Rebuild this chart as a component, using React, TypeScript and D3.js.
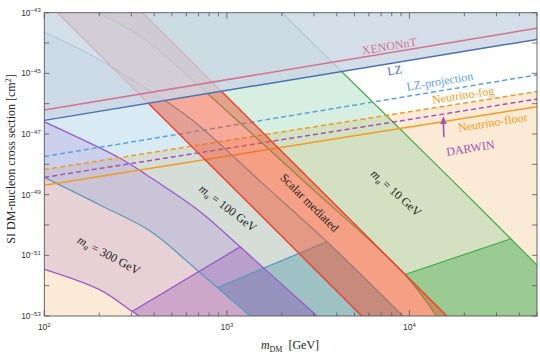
import React, { useEffect, useRef } from "react";
import * as d3 from "d3";

type Pt = [number, number]; // [DM mass in GeV, log10 of cross section in cm^2]

// axis ranges and labelled ticks
const massDomain: [number, number] = [100, 50000];
const expDomain: [number, number] = [-53, -43];
const yLabelExps = [-53, -51, -49, -47, -45, -43];
const xLabelExps = [2, 3, 4];

// experimental limits / projections
const xenonNT: Pt[] = [[100, -46.21], [50000, -43.51]];
const lz: Pt[] = [[100, -46.55], [50000, -43.88]];
const lzProjection: Pt[] = [[100, -47.74], [50000, -45.05]];
const neutrinoFog: Pt[] = [[100, -48.17], [50000, -45.6]];
const darwin: Pt[] = [[100, -48.43], [50000, -45.85]];
const neutrinoFloor: Pt[] = [[100, -48.69], [50000, -46.1]];

// scalar mediated band edges
const scalarLeft: Pt[] = [[118, -43], [5483, -53]];
const scalarRight: Pt[] = [[345, -43], [16040, -53]];

// m_a = 300 GeV
const upper300: Pt[] = [[100, -46.6], [260, -47.8], [364, -48.35], [714, -49.56], [1183, -50.72], [3114, -53.0]];
const lower300: Pt[] = [[100, -51.46], [202, -52.14], [301, -52.84], [331, -53.0]];
const cut300: Pt[] = [[301, -52.86], [1183, -50.72]];

// m_a = 100 GeV
const upper100: Pt[] = [[100, -43.65], [194, -44.5], [349, -45.44], [629, -46.48], [1622, -48.71], [3533, -50.55], [9230, -53.0]];
const lower100: Pt[] = [[100, -48.43], [202, -49.34], [380, -50.2], [685, -51.48], [1342, -53.0]];
const cut100: Pt[] = [[899, -52.05], [3533, -50.55]];

// m_a = 10 GeV
const upper10: Pt[] = [[2000, -43], [17100, -48.52], [50000, -51.32]];
const lower10: Pt[] = [[194, -43], [260, -43.37], [380, -44.01], [714, -45.45], [2523, -48.45], [9495, -51.65], [14050, -53.0]];
const cut10: Pt[] = [[9495, -51.63], [35750, -50.46]];

const W = 540;
const H = 354;
const plot = { left: 44.3, right: 537, top: 12.7, bottom: 316 };
const serif = "'Liberation Serif', 'Times New Roman', serif";
const sans = "'Liberation Sans', Arial, sans-serif";

export default function App() {
  const ref = useRef<SVGSVGElement | null>(null);

  useEffect(() => {
    const svg = d3.select(ref.current);
    svg.selectAll("*").remove();

    const x = d3.scaleLog().domain(massDomain).range([plot.left, plot.right]);
    const y = d3
      .scaleLog()
      .domain([10 ** expDomain[0], 10 ** expDomain[1]])
      .range([plot.bottom, plot.top]);
    const X = (p: Pt) => x(p[0]);
    const Y = (p: Pt) => y(10 ** p[1]);
    const smooth = d3.line<Pt>().x(X).y(Y).curve(d3.curveCatmullRom.alpha(0.5));
    const straight = d3.line<Pt>().x(X).y(Y);
    const poly = (pts: Pt[]) => straight(pts) + "Z";
    const bandPath = (upper: Pt[], lower: Pt[], extra: Pt[] = []) => {
      const lo = smooth([...lower].reverse()) as string;
      return smooth(upper) + extra.map((p) => `L${X(p)},${Y(p)}`).join("") + "L" + lo.slice(1) + "Z";
    };
    const [mLo, mHi] = massDomain;
    const [eLo, eHi] = expDomain;

    const defs = svg.append("defs");
    defs
      .append("clipPath")
      .attr("id", "plot-area")
      .append("rect")
      .attr("x", plot.left)
      .attr("y", plot.top)
      .attr("width", plot.right - plot.left)
      .attr("height", plot.bottom - plot.top);

    const g = svg.append("g").attr("clip-path", "url(#plot-area)");

    // neutrino fog region
    g.append("path").attr("d", poly([...neutrinoFog, [mHi, eLo], [mLo, eLo]])).attr("fill", "#fbebd6");

    const bands: any[] = [
      { id: "b100", upper: upper100, lower: lower100, extra: [], cut: cut100, light: "#7fbcd9", lightOp: 0.3, dark: "#3d8fa0", darkOp: 0.36, stroke: "#5b9cbc" },
      { id: "b300", upper: upper300, lower: lower300, extra: [], cut: cut300, light: "#9b6bd0", lightOp: 0.2, dark: "#9b59b6", darkOp: 0.35, stroke: "#9b59c9" },
      { id: "b10", upper: upper10, lower: lower10, extra: [[mHi, eLo]], cut: cut10, light: "#5cc083", lightOp: 0.25, dark: "#4caf50", darkOp: 0.42, stroke: "#4cae50" },
    ];

    bands.forEach((b) => {
      b.d = bandPath(b.upper, b.lower, b.extra);
      const p1 = [X(b.cut[0]), Y(b.cut[0])];
      const p2 = [X(b.cut[1]), Y(b.cut[1])];
      const k = (p2[1] - p1[1]) / (p2[0] - p1[0]);
      const xa = plot.left - 30;
      const xb = plot.right + 30;
      const ya = p1[1] + k * (xa - p1[0]);
      const yb = p1[1] + k * (xb - p1[0]);
      b.cutLine = `M${xa},${ya}L${xb},${yb}`;
      defs
        .append("clipPath")
        .attr("id", `below-${b.id}`)
        .append("path")
        .attr("d", `M${xa},${ya}L${xb},${yb}L${xb},${plot.bottom + 40}L${xa},${plot.bottom + 40}Z`);
      defs.append("clipPath").attr("id", `inside-${b.id}`).append("path").attr("d", b.d);
    });

    // light bands
    bands.forEach((b) => {
      g.append("path").attr("d", b.d).attr("fill", b.light).attr("fill-opacity", b.lightOp);
    });
    // darker parts below the cut lines
    bands.forEach((b) => {
      g.append("path")
        .attr("d", b.d)
        .attr("clip-path", `url(#below-${b.id})`)
        .attr("fill", b.dark)
        .attr("fill-opacity", b.darkOp);
    });
    // band edges
    bands.forEach((b) => {
      [b.upper, b.lower].forEach((c) => {
        g.append("path").attr("d", smooth(c)).attr("fill", "none").attr("stroke", b.stroke).attr("stroke-width", 1.3);
      });
      g.append("path")
        .attr("d", b.cutLine)
        .attr("clip-path", `url(#inside-${b.id})`)
        .attr("fill", "none")
        .attr("stroke", b.stroke)
        .attr("stroke-width", 1.3);
    });

    // projections
    const projections = [
      { pts: lzProjection, color: "#5ba3d9", dash: "5,3" },
      { pts: neutrinoFog, color: "#f29b22", dash: "5,3" },
      { pts: darwin, color: "#a454b4", dash: "5,3" },
      { pts: neutrinoFloor, color: "#f29b22", dash: null },
    ];
    projections.forEach((p) => {
      g.append("path")
        .attr("d", straight(p.pts))
        .attr("fill", "none")
        .attr("stroke", p.color)
        .attr("stroke-width", 1.5)
        .attr("stroke-dasharray", p.dash);
    });

    // scalar mediated band
    g.append("path")
      .attr("d", poly([...scalarLeft, ...[...scalarRight].reverse()]))
      .attr("fill", "#ef5533")
      .attr("fill-opacity", 0.5);
    [scalarLeft, scalarRight].forEach((c) => {
      g.append("path").attr("d", straight(c)).attr("fill", "none").attr("stroke", "#e8432b").attr("stroke-width", 1.4);
    });

    // excluded region above LZ
    g.append("path").attr("d", poly([...lz, [mHi, eHi], [mLo, eHi]])).attr("fill", "#c9d6e4").attr("fill-opacity", 0.8);

    [
      { pts: xenonNT, color: "#d5738f" },
      { pts: lz, color: "#4b6fb6" },
    ].forEach((p) => {
      g.append("path").attr("d", straight(p.pts)).attr("fill", "none").attr("stroke", p.color).attr("stroke-width", 1.5);
    });

    // labels along the limit lines
    const onLine = (pts: Pt[], m: number) => {
      const t = (Math.log10(m) - Math.log10(pts[0][0])) / (Math.log10(pts[1][0]) - Math.log10(pts[0][0]));
      return [x(m), y(10 ** (pts[0][1] + t * (pts[1][1] - pts[0][1])))];
    };
    const lineAngle = (pts: Pt[]) => (Math.atan2(Y(pts[1]) - Y(pts[0]), X(pts[1]) - X(pts[0])) * 180) / Math.PI;
    const lineLabels = [
      { pts: xenonNT, m: 7860, dy: -2.5, text: "XENONnT", color: "#d5738f" },
      { pts: lz, m: 8160, dy: 11.5, text: "LZ", color: "#4b6fb6" },
      { pts: lzProjection, m: 14960, dy: -5.5, text: "LZ-projection", color: "#5ba3d9" },
      { pts: neutrinoFog, m: 20000, dy: -4, text: "Neutrino-fog", color: "#f29b22" },
      { pts: neutrinoFloor, m: 28100, dy: 12.5, text: "Neutrino-floor", color: "#f29b22" },
      { pts: darwin, m: 20000, dy: 42, text: "DARWIN", color: "#a454b4" },
    ];
    lineLabels.forEach((l) => {
      const [lx, ly] = onLine(l.pts, l.m);
      svg
        .append("text")
        .attr("transform", `translate(${lx},${ly}) rotate(${lineAngle(l.pts)})`)
        .attr("y", l.dy)
        .attr("text-anchor", "middle")
        .attr("fill", l.color)
        .style("font-family", serif)
        .style("font-size", "12px")
        .text(l.text);
    });

    // DARWIN arrow
    const [ax, ay] = onLine(darwin, 15350);
    svg
      .append("line")
      .attr("x1", ax + 0.5)
      .attr("y1", ay + 23)
      .attr("x2", ax)
      .attr("y2", ay + 8)
      .attr("stroke", "#a454b4")
      .attr("stroke-width", 1.6);
    svg
      .append("path")
      .attr("d", `M${ax},${ay + 2}L${ax - 3.2},${ay + 10}L${ax + 3.2},${ay + 10}Z`)
      .attr("fill", "#a454b4");

    // band labels
    const bandLabels = [
      { m: 226, e: -50.99, angle: 28, sub: "300" },
      { m: 1016, e: -49.44, angle: 37.5, sub: "100" },
      { m: 8480, e: -48.94, angle: 42, sub: "10" },
    ];
    bandLabels.forEach((l) => {
      const t = svg
        .append("text")
        .attr("transform", `translate(${x(l.m)},${y(10 ** l.e)}) rotate(${l.angle})`)
        .attr("dy", "0.35em")
        .attr("text-anchor", "middle")
        .attr("fill", "#222")
        .style("font-family", serif)
        .style("font-size", "12px");
      t.append("tspan").style("font-style", "italic").text("m");
      t.append("tspan").attr("dy", 2.5).style("font-size", "8px").style("font-style", "italic").text("a");
      t.append("tspan").attr("dy", -2.5).text(` = ${l.sub} GeV`);
    });
    svg
      .append("text")
      .attr("transform", `translate(${x(2844)},${y(10 ** -49.26)}) rotate(${lineAngle(scalarLeft)})`)
      .attr("dy", "0.35em")
      .attr("text-anchor", "middle")
      .attr("fill", "#222")
      .style("font-family", serif)
      .style("font-size", "12px")
      .text("Scalar mediated");

    // frame and ticks
    const axisColor = "#555";
    svg
      .append("rect")
      .attr("x", plot.left)
      .attr("y", plot.top)
      .attr("width", plot.right - plot.left)
      .attr("height", plot.bottom - plot.top)
      .attr("fill", "none")
      .attr("stroke", axisColor)
      .attr("stroke-width", 0.9);

    const ticks = svg.append("g").attr("stroke", axisColor).attr("stroke-width", 0.8);
    x.ticks().forEach((v) => {
      const major = Math.abs(Math.log10(v) - Math.round(Math.log10(v))) < 1e-6;
      const len = major ? 6 : 3.5;
      const xv = x(v);
      ticks.append("line").attr("x1", xv).attr("x2", xv).attr("y1", plot.bottom).attr("y2", plot.bottom - len);
      ticks.append("line").attr("x1", xv).attr("x2", xv).attr("y1", plot.top).attr("y2", plot.top + len);
    });
    d3.range(expDomain[0], expDomain[1] + 1).forEach((e) => {
      const yv = y(10 ** e);
      ticks.append("line").attr("x1", plot.left).attr("x2", plot.left + 5).attr("y1", yv).attr("y2", yv);
      ticks.append("line").attr("x1", plot.right).attr("x2", plot.right - 5).attr("y1", yv).attr("y2", yv);
    });

    yLabelExps.forEach((e) => {
      const t = svg
        .append("text")
        .attr("x", plot.left - 3.5)
        .attr("y", y(10 ** e) + 3)
        .attr("text-anchor", "end")
        .attr("fill", "#333")
        .style("font-family", sans)
        .style("font-size", "8.5px");
      t.append("tspan").text("10");
      t.append("tspan").attr("dy", -3.5).style("font-size", "6px").text(`\u2212${-e}`);
    });
    xLabelExps.forEach((e) => {
      const t = svg
        .append("text")
        .attr("x", x(10 ** e))
        .attr("y", plot.bottom + 14)
        .attr("text-anchor", "middle")
        .attr("fill", "#333")
        .style("font-family", sans)
        .style("font-size", "8.5px");
      t.append("tspan").text("10");
      t.append("tspan").attr("dy", -3.5).style("font-size", "6px").text(`${e}`);
    });

    // axis titles
    const xt = svg
      .append("text")
      .attr("x", 290)
      .attr("y", 349)
      .attr("text-anchor", "middle")
      .attr("fill", "#222")
      .style("font-family", serif)
      .style("font-size", "12px");
    xt.append("tspan").style("font-style", "italic").text("m");
    xt.append("tspan").attr("dy", 2.5).style("font-size", "8px").text("DM");
    xt.append("tspan").attr("dy", -2.5).text("\u2002[GeV]");

    const yt = svg
      .append("text")
      .attr("transform", `translate(15,159) rotate(-90)`)
      .attr("text-anchor", "middle")
      .attr("fill", "#222")
      .style("font-family", serif)
      .style("font-size", "12px");
    yt.append("tspan").text("SI DM-nucleon cross section [cm");
    yt.append("tspan").attr("dy", -4).style("font-size", "8px").text("2");
    yt.append("tspan").attr("dy", 4).text("]");
  }, []);

  return (
    <div style={{ position: "absolute", left: 0, top: 0 }}>
      <svg ref={ref} width={W} height={H} style={{ display: "block", background: "#fff" }} />
    </div>
  );
}
